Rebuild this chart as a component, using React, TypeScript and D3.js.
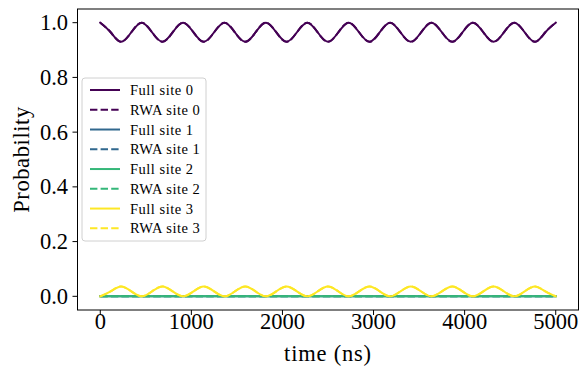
import * as d3 from "d3"

// time samples (ns), read at quarter periods of the oscillation
const timeNs = [
    0, 114, 227, 341, 455, 568, 682, 795, 909, 1023, 1136, 1250, 1364, 1477, 1591,
    1705, 1818, 1932, 2045, 2159, 2273, 2386, 2500, 2614, 2727, 2841, 2955, 3068,
    3182, 3295, 3409, 3523, 3636, 3750, 3864, 3977, 4091, 4205, 4318, 4432, 4545,
    4659, 4773, 4886, 5000,
]

const fullSite0 = [
    1.0, 0.965, 0.93, 0.965, 1.0, 0.965, 0.93, 0.965, 1.0, 0.965, 0.93, 0.965,
    1.0, 0.965, 0.93, 0.965, 1.0, 0.965, 0.93, 0.965, 1.0, 0.965, 0.93, 0.965,
    1.0, 0.965, 0.93, 0.965, 1.0, 0.965, 0.93, 0.965, 1.0, 0.965, 0.93, 0.965,
    1.0, 0.965, 0.93, 0.965, 1.0, 0.965, 0.93, 0.965, 1.0,
]
const rwaSite0 = [
    1.0, 0.965, 0.93, 0.965, 1.0, 0.965, 0.93, 0.965, 1.0, 0.965, 0.93, 0.965,
    1.0, 0.965, 0.93, 0.965, 1.0, 0.965, 0.93, 0.965, 1.0, 0.965, 0.93, 0.965,
    1.0, 0.965, 0.93, 0.965, 1.0, 0.965, 0.93, 0.965, 1.0, 0.965, 0.93, 0.965,
    1.0, 0.965, 0.93, 0.965, 1.0, 0.965, 0.93, 0.965, 1.0,
]
const fullSite1 = [
    0, 0, 0, 0, 0, 0, 0, 0, 0, 0, 0, 0, 0, 0, 0, 0, 0, 0, 0, 0, 0, 0, 0,
    0, 0, 0, 0, 0, 0, 0, 0, 0, 0, 0, 0, 0, 0, 0, 0, 0, 0, 0, 0, 0, 0,
]
const rwaSite1 = [
    0, 0, 0, 0, 0, 0, 0, 0, 0, 0, 0, 0, 0, 0, 0, 0, 0, 0, 0, 0, 0, 0, 0,
    0, 0, 0, 0, 0, 0, 0, 0, 0, 0, 0, 0, 0, 0, 0, 0, 0, 0, 0, 0, 0, 0,
]
const fullSite2 = [
    0, 0, 0, 0, 0, 0, 0, 0, 0, 0, 0, 0, 0, 0, 0, 0, 0, 0, 0, 0, 0, 0, 0,
    0, 0, 0, 0, 0, 0, 0, 0, 0, 0, 0, 0, 0, 0, 0, 0, 0, 0, 0, 0, 0, 0,
]
const rwaSite2 = [
    0, 0, 0, 0, 0, 0, 0, 0, 0, 0, 0, 0, 0, 0, 0, 0, 0, 0, 0, 0, 0, 0, 0,
    0, 0, 0, 0, 0, 0, 0, 0, 0, 0, 0, 0, 0, 0, 0, 0, 0, 0, 0, 0, 0, 0,
]
const fullSite3 = [
    0, 0.018, 0.036, 0.018, 0, 0.018, 0.036, 0.018, 0, 0.018, 0.036, 0.018,
    0, 0.018, 0.036, 0.018, 0, 0.018, 0.036, 0.018, 0, 0.018, 0.036, 0.018,
    0, 0.018, 0.036, 0.018, 0, 0.018, 0.036, 0.018, 0, 0.018, 0.036, 0.018,
    0, 0.018, 0.036, 0.018, 0, 0.018, 0.036, 0.018, 0,
]
const rwaSite3 = [
    0, 0.018, 0.036, 0.018, 0, 0.018, 0.036, 0.018, 0, 0.018, 0.036, 0.018,
    0, 0.018, 0.036, 0.018, 0, 0.018, 0.036, 0.018, 0, 0.018, 0.036, 0.018,
    0, 0.018, 0.036, 0.018, 0, 0.018, 0.036, 0.018, 0, 0.018, 0.036, 0.018,
    0, 0.018, 0.036, 0.018, 0, 0.018, 0.036, 0.018, 0,
]

const seriesLabels = [
    "Full site 0", "RWA site 0", "Full site 1", "RWA site 1",
    "Full site 2", "RWA site 2", "Full site 3", "RWA site 3",
]
const seriesValues = [
    fullSite0, rwaSite0, fullSite1, rwaSite1,
    fullSite2, rwaSite2, fullSite3, rwaSite3,
]
const xTicks = [0, 1000, 2000, 3000, 4000, 5000]
const yTicks = [0, 0.2, 0.4, 0.6, 0.8, 1.0]

const siteColors = ["#440154", "#31688e", "#35b779", "#fde725"]

export default function App() {
    const width = 579
    const height = 370
    const margin = { top: 9, right: 0.5, bottom: 60, left: 77.5 }
    const font = "'Liberation Serif', 'Times New Roman', serif"

    const x = d3
        .scaleLinear()
        .domain([-250, 5250])
        .range([margin.left, width - margin.right])
    const y = d3
        .scaleLinear()
        .domain([-0.05, 1.05])
        .range([height - margin.bottom, margin.top])

    const line = d3
        .line<number>()
        .x((_, i) => x(timeNs[i]))
        .y((d) => y(d))
        .curve(d3.curveNatural)

    const plotBottom = height - margin.bottom
    const legend = { x: 82, y: 78, w: 124, h: 163, row: 19.76 }

    return (
        <svg
            width={width}
            height={height}
            style={{ position: "absolute", left: 0, top: 0, display: "block", background: "#fff" }}
        >
            <defs>
                <clipPath id="plot">
                    <rect
                        x={margin.left}
                        y={margin.top}
                        width={width - margin.left - margin.right}
                        height={plotBottom - margin.top}
                    />
                </clipPath>
            </defs>

            {/* Lines */}
            <g clipPath="url(#plot)">
                {seriesValues.map((vals, i) => (
                    <path
                        key={seriesLabels[i]}
                        d={line(vals) ?? ""}
                        fill="none"
                        stroke={siteColors[Math.floor(i / 2)]}
                        strokeWidth={2}
                        strokeDasharray={i % 2 === 1 ? "7.4 3.2" : undefined}
                        strokeLinecap={i % 2 === 1 ? "butt" : "square"}
                    />
                ))}
            </g>

            {/* Frame */}
            <rect
                x={margin.left}
                y={margin.top}
                width={width - margin.left - margin.right}
                height={plotBottom - margin.top}
                fill="none"
                stroke="#000"
                strokeWidth={1}
            />

            {/* X axis */}
            {xTicks.map((t) => (
                <g key={t} transform={`translate(${x(t)},${plotBottom})`}>
                    <line y2={5} stroke="#000" strokeWidth={1} />
                    <text
                        y={18.5}
                        textAnchor="middle"
                        fontFamily={font}
                        fontSize={22.5}
                        fill="#000"
                    >
                        {t}
                    </text>
                </g>
            ))}
            <text
                x={(margin.left + width - margin.right) / 2}
                y={361}
                textAnchor="middle"
                fontFamily={font}
                fontSize={22.5}
                letterSpacing={0.8}
                fill="#000"
            >
                time (ns)
            </text>

            {/* Y axis */}
            {yTicks.map((t) => (
                <g key={t} transform={`translate(${margin.left},${y(t)})`}>
                    <line x2={-5} stroke="#000" strokeWidth={1} />
                    <text
                        x={-9.5}
                        y={7.5}
                        textAnchor="end"
                        fontFamily={font}
                        fontSize={22.5}
                        fill="#000"
                    >
                        {t.toFixed(1)}
                    </text>
                </g>
            ))}
            <text
                transform={`translate(29,${(margin.top + plotBottom) / 2}) rotate(-90)`}
                textAnchor="middle"
                fontFamily={font}
                fontSize={22.5}
                letterSpacing={0.6}
                fill="#000"
            >
                Probability
            </text>

            {/* Legend */}
            <rect
                x={legend.x}
                y={legend.y}
                width={legend.w}
                height={legend.h}
                rx={3}
                fill="#fff"
                fillOpacity={0.8}
                stroke="#d0d0d0"
                strokeWidth={1}
            />
            {seriesLabels.map((label, i) => {
                const cy = legend.y + 12 + i * legend.row
                return (
                    <g key={label}>
                        <line
                            x1={90}
                            x2={120}
                            y1={cy}
                            y2={cy}
                            stroke={siteColors[Math.floor(i / 2)]}
                            strokeWidth={2}
                            strokeDasharray={i % 2 === 1 ? "7.4 3.2" : undefined}
                        />
                        <text
                            x={130}
                            y={cy + 5}
                            fontFamily={font}
                            fontSize={14.5}
                            letterSpacing={0.5}
                            fill="#000"
                        >
                            {label}
                        </text>
                    </g>
                )
            })}
        </svg>
    )
}
